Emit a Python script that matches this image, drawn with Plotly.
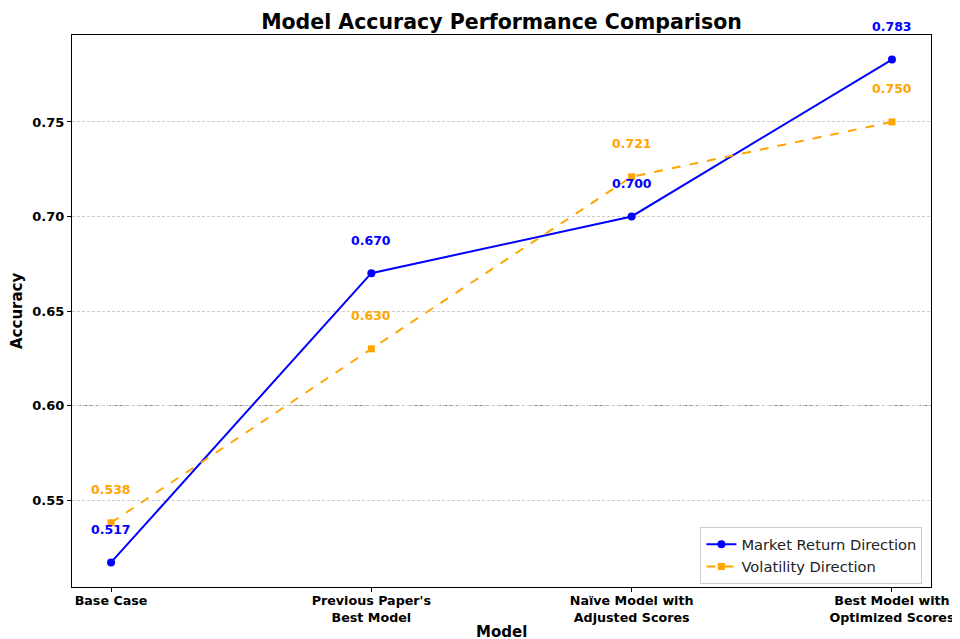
import plotly.graph_objects as go

categories = ["Base Case", "Previous Paper's<br>Best Model", "Naïve Model with<br>Adjusted Scores", "Best Model with<br>Optimized Scores"]
market_return = [0.517, 0.670, 0.700, 0.783]
volatility = [0.538, 0.630, 0.721, 0.750]
y_ticks = [0.55, 0.60, 0.65, 0.70, 0.75]

FONT = "DejaVu Sans"
xs = list(range(len(categories)))

fig = go.Figure()
fig.add_trace(go.Scatter(
    x=xs, y=market_return, mode="lines+markers", name="Market Return Direction",
    line=dict(color="blue", width=2), marker=dict(symbol="circle", size=8, color="blue")))
fig.add_trace(go.Scatter(
    x=xs, y=volatility, mode="lines+markers", name="Volatility Direction",
    line=dict(color="orange", width=2, dash="dash"), marker=dict(symbol="square", size=7, color="orange")))

annotations = []
for xi, v in zip(xs, market_return):
    annotations.append(dict(x=xi, y=v, text=f"<b>{v:.3f}</b>", showarrow=False, yshift=33,
                            font=dict(family=FONT, size=12.5, color="blue")))
for xi, v in zip(xs, volatility):
    annotations.append(dict(x=xi, y=v, text=f"<b>{v:.3f}</b>", showarrow=False, yshift=33,
                            font=dict(family=FONT, size=12.5, color="orange")))
annotations.append(dict(x=0.5, y=0, xref="paper", yref="paper", yshift=-45, yanchor="middle",
                        text="<b>Model</b>", showarrow=False, font=dict(family=FONT, size=15, color="black")))
annotations.append(dict(x=0, y=0.5, xref="paper", yref="paper", xshift=-55, xanchor="center",
                        text="<b>Accuracy</b>", textangle=-90, showarrow=False,
                        font=dict(family=FONT, size=15, color="black")))

fig.add_shape(type="line", xref="paper", x0=0, x1=1, yref="y", y0=0.6, y1=0.6,
              line=dict(color="gray", width=1, dash="dot"), layer="below")

fig.update_layout(
    width=960, height=639,
    margin=dict(l=64, r=37, t=27, b=60),
    paper_bgcolor="white", plot_bgcolor="white",
    title=dict(text="<b>Model Accuracy Performance Comparison</b>", x=0.5, xref="paper",
               y=1 - 14 / 639, yref="container", yanchor="middle", xanchor="center",
               font=dict(family=FONT, size=20.5, color="black")),
    font=dict(family=FONT, color="black"),
    annotations=annotations,
    legend=dict(x=0.99, y=0.005, xanchor="right", yanchor="bottom",
                bgcolor="rgba(255,255,255,0.8)", bordercolor="#cccccc", borderwidth=1,
                font=dict(family=FONT, size=14.7, color="#222222"), tracegroupgap=0, itemwidth=30),
    showlegend=True,
)
fig.update_xaxes(
    range=[-0.15, 3.15], tickmode="array", tickvals=xs, automargin=False,
    ticktext=[f"<b>{c}</b>" for c in categories],
    showgrid=False, zeroline=False, showline=True, linecolor="black", linewidth=1, mirror=True,
    ticks="outside", ticklen=4, tickcolor="black", ticklabelstandoff=-2,
    tickfont=dict(family=FONT, size=12.7, color="black"))
fig.update_yaxes(
    range=[0.504, 0.796], tickmode="array", tickvals=y_ticks, automargin=False,
    ticktext=[f"<b>{t:.2f}</b>" for t in y_ticks],
    showgrid=True, gridcolor="#cccccc", griddash="3px,2px", gridwidth=1, zeroline=False,
    showline=True, linecolor="black", linewidth=1, mirror=True,
    ticks="outside", ticklen=4, tickcolor="black", tickfont=dict(family=FONT, size=13, color="black"))

fig.write_html("out.html")
